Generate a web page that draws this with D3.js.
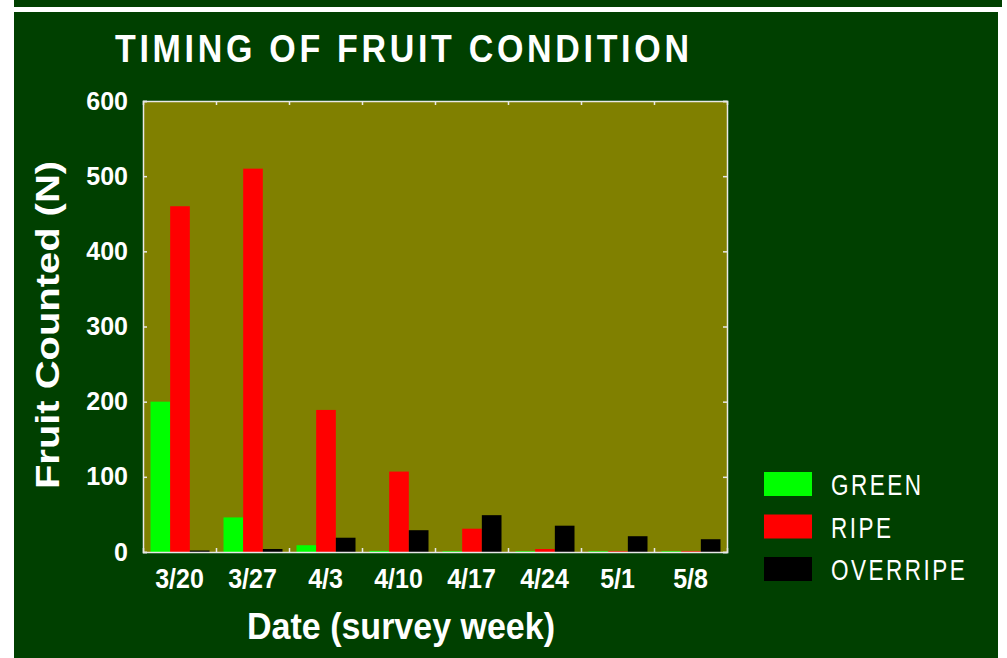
<!DOCTYPE html>
<html lang="en">
<head>
<meta charset="UTF-8">
<title>Timing of fruit condition</title>
<script src="https://d3js.org/d3.v7.min.js"></script>
<style>
    body { margin: 0; background: #fff; }
    svg { display: block; font-family: "Liberation Sans", Arial, sans-serif; }
</style>
</head>
<body>
<script>
// survey weeks and fruit counts per condition
var dates = ["3/20", "3/27", "4/3", "4/10", "4/17", "4/24", "5/1", "5/8"];
var greenCounts = [200, 46, 9, 1.5, 1, 1, 1, 1];
var ripeCounts = [460, 510, 189, 107, 31, 4, 1, 1];
var overripeCounts = [2, 4, 19, 29, 49, 35, 21, 17];
var seriesNames = ["GREEN", "RIPE", "OVERRIPE"];
var seriesColors = ["#00ff00", "#ff0000", "#000000"];
var yTicks = [0, 100, 200, 300, 400, 500, 600];

var width = 1007, height = 658;
var plot = { left: 143, top: 101, right: 727, bottom: 552 };

var svg = d3.select("body").append("svg")
    .attr("width", width)
    .attr("height", height);

// dark green panel with the thin stripe on top
svg.append("rect").attr("x", 14).attr("y", 0).attr("width", 988).attr("height", 7).attr("fill", "#004000");
svg.append("rect").attr("x", 14).attr("y", 12).attr("width", 984).attr("height", 646).attr("fill", "#004000");

var rows = dates.map(function (d, i) {
    return { date: d, GREEN: greenCounts[i], RIPE: ripeCounts[i], OVERRIPE: overripeCounts[i] };
});

var x0 = d3.scaleBand().domain(dates).range([plot.left, plot.right]);
var x1 = d3.scaleBand().domain(seriesNames).range([1, x0.bandwidth()]).paddingOuter(0.33).paddingInner(0);
var y = d3.scaleLinear().domain([0, 600]).range([plot.bottom, plot.top]);
var color = d3.scaleOrdinal().domain(seriesNames).range(seriesColors);

// plot background
svg.append("rect")
    .attr("x", plot.left).attr("y", plot.top)
    .attr("width", plot.right - plot.left).attr("height", plot.bottom - plot.top)
    .attr("fill", "#808000");

// bars
svg.append("g").selectAll("g")
    .data(rows)
    .enter().append("g")
    .attr("transform", function (d) { return "translate(" + x0(d.date) + ",0)"; })
    .selectAll("rect")
    .data(function (d) { return seriesNames.map(function (k) { return { key: k, value: d[k] }; }); })
    .enter().append("rect")
    .attr("x", function (d) { return x1(d.key); })
    .attr("width", x1.bandwidth())
    .attr("y", function (d) { return y(d.value); })
    .attr("height", function (d) { return y(0) - y(d.value); })
    .attr("fill", function (d) { return color(d.key); });

// frame with inward ticks
var frame = svg.append("g").attr("class", "frame");
var bounds = d3.scaleLinear().domain([0, dates.length]).range([plot.left, plot.right]);

var yAxis = frame.append("g")
    .attr("transform", "translate(" + plot.left + ",0)")
    .call(d3.axisLeft(y).tickValues(yTicks).tickSize(-4).tickPadding(15));
yAxis.selectAll("text")
    .attr("fill", "#fff").attr("font-size", 25).attr("font-weight", "bold");

frame.append("g")
    .attr("transform", "translate(" + plot.right + ",0)")
    .call(d3.axisRight(y).tickValues(yTicks).tickSize(-4).tickFormat(""));
frame.append("g")
    .attr("transform", "translate(0," + plot.bottom + ")")
    .call(d3.axisBottom(bounds).tickValues(d3.range(1, dates.length)).tickSize(-4).tickFormat(""));
frame.append("g")
    .attr("transform", "translate(0," + plot.top + ")")
    .call(d3.axisTop(bounds).tickValues(d3.range(1, dates.length)).tickSize(-4).tickFormat(""));

frame.selectAll(".domain").attr("stroke", "#e8e8e8").attr("stroke-width", 1.5);
frame.selectAll(".tick line").attr("stroke", "#e8e8e8").attr("stroke-width", 1.5);

// date labels
svg.append("g").selectAll("text")
    .data(dates)
    .enter().append("text")
    .attr("transform", function (d) {
        return "translate(" + (x0(d) + x0.bandwidth() / 2) + ",588) scale(1,1.08)";
    })
    .attr("text-anchor", "middle")
    .attr("fill", "#fff")
    .attr("font-size", 25)
    .attr("font-weight", "bold")
    .text(function (d) { return d; });

// titles
svg.append("text")
    .attr("transform", "translate(115,62) scale(1,1.12)")
    .attr("fill", "#fff")
    .attr("font-size", 34)
    .attr("font-weight", "bold")
    .attr("letter-spacing", 3.7)
    .text("TIMING OF FRUIT CONDITION");

svg.append("text")
    .attr("transform", "translate(401,639) scale(1,1.1)")
    .attr("text-anchor", "middle")
    .attr("fill", "#fff")
    .attr("font-size", 34)
    .attr("font-weight", "bold")
    .text("Date (survey week)");

svg.append("text")
    .attr("transform", "translate(59,325) rotate(-90)")
    .attr("text-anchor", "middle")
    .attr("fill", "#fff")
    .attr("font-size", 34)
    .attr("font-weight", "bold")
    .attr("textLength", 328)
    .attr("lengthAdjust", "spacingAndGlyphs")
    .text("Fruit Counted (N)");

// legend
var legend = svg.append("g").selectAll("g")
    .data(seriesNames)
    .enter().append("g")
    .attr("transform", function (d, i) { return "translate(764," + (472 + i * 42.5) + ")"; });

legend.append("rect")
    .attr("width", 48).attr("height", 24)
    .attr("fill", function (d) { return color(d); });

legend.append("text")
    .attr("transform", "translate(67,23) scale(1,1.28)")
    .attr("fill", "#fff")
    .attr("font-size", 22.5)
    .attr("letter-spacing", 2.5)
    .text(function (d) { return d; });
</script>
</body>
</html>
